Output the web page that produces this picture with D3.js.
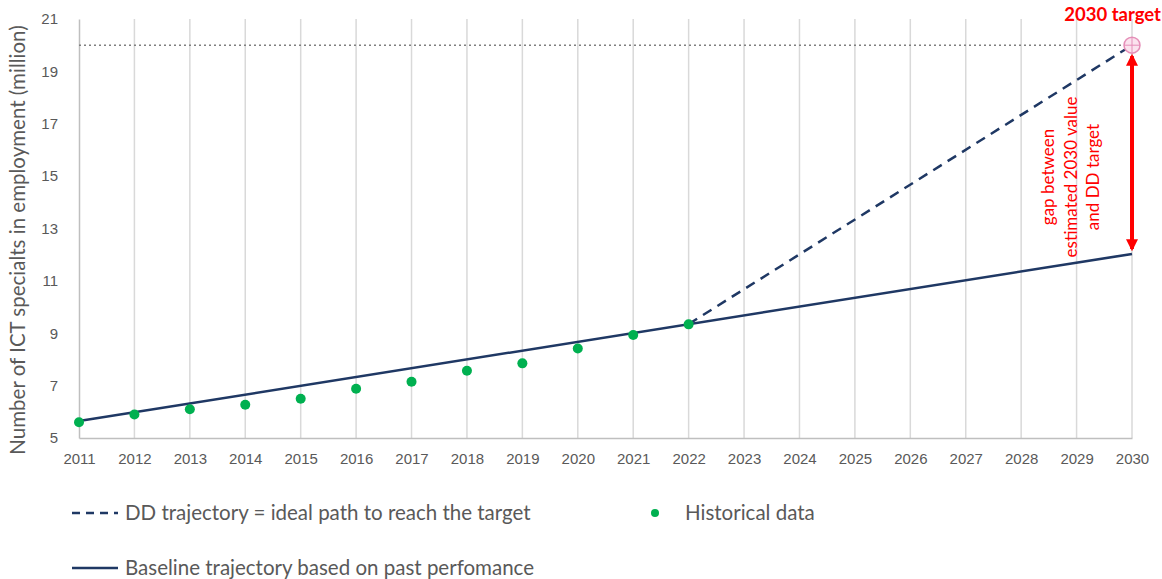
<!DOCTYPE html>
<html>
<head>
<meta charset="utf-8">
<script src="https://cdn.jsdelivr.net/npm/d3@7"></script>
<style>
  body { margin: 0; background: #fff; }
  svg { display: block; font-family: Lato, "Open Sans", sans-serif; }
</style>
</head>
<body>
<svg id="chart" width="1162" height="579"></svg>
<script>
// data
var years = d3.range(2011, 2031)
var yTicks = [5, 7, 9, 11, 13, 15, 17, 19, 21]
var histYears = [2011, 2012, 2013, 2014, 2015, 2016, 2017, 2018, 2019, 2020, 2021, 2022]
var histValues = [5.6, 5.9, 6.1, 6.27, 6.5, 6.88, 7.15, 7.57, 7.85, 8.42, 8.93, 9.34]
var baselineYears = [2011, 2030]
var baselineValues = [5.65, 12.03]
var ddYears = [2022, 2030]
var ddValues = [9.35, 20]
var targetYear = 2030
var targetValue = 20

var grey = '#595959',
    navy = '#1f3864',
    green = '#00b050',
    red = '#ff0000'

var margin = {top: 19, right: 30, bottom: 141, left: 79},
    width = 1162, height = 579

var svg = d3.select('#chart')

var x = d3.scaleLinear().domain([2011, 2030]).range([margin.left, width - margin.right])
var y = d3.scaleLinear().domain([5, 21]).range([height - margin.bottom, margin.top])

// vertical gridlines
svg.append('g')
  .selectAll('line')
  .data(years.slice(1))
  .enter().append('line')
    .attr('x1', function(d){ return x(d) })
    .attr('x2', function(d){ return x(d) })
    .attr('y1', y(21))
    .attr('y2', y(5))
    .attr('stroke', '#d9d9d9')
    .attr('stroke-width', 1.5)

// axes
var xAxis = svg.append('g')
  .attr('transform', 'translate(0,' + y(5) + ')')
  .call(d3.axisBottom(x).tickValues(years).tickFormat(d3.format('d')).tickSize(0).tickPadding(15))
xAxis.select('.domain').attr('stroke', '#bfbfbf').attr('stroke-width', 1.5)
xAxis.selectAll('text').attr('fill', grey).attr('font-size', 15)

var yAxis = svg.append('g')
  .attr('transform', 'translate(' + x(2011) + ',0)')
  .call(d3.axisLeft(y).tickValues(yTicks).tickSize(0).tickPadding(21))
yAxis.select('.domain').attr('stroke', '#bfbfbf').attr('stroke-width', 1.5)
yAxis.selectAll('text').attr('fill', grey).attr('font-size', 15)

svg.append('text')
  .attr('transform', 'translate(25,' + 240 + ') rotate(-90)')
  .attr('text-anchor', 'middle')
  .attr('fill', grey)
  .attr('font-size', 20.5)
  .text('Number of ICT specialts in employment (million)')

// target level (dotted)
svg.append('line')
  .attr('x1', x(2011)).attr('x2', x(targetYear))
  .attr('y1', y(targetValue)).attr('y2', y(targetValue))
  .attr('stroke', '#7f7f7f')
  .attr('stroke-width', 1.5)
  .attr('stroke-dasharray', '2,3')

var line = d3.line()
  .x(function(d){ return x(d[0]) })
  .y(function(d){ return y(d[1]) })

// baseline
svg.append('path')
  .datum(d3.zip(baselineYears, baselineValues))
  .attr('d', line)
  .attr('fill', 'none')
  .attr('stroke', navy)
  .attr('stroke-width', 2.5)

// DD trajectory
svg.append('path')
  .datum(d3.zip(ddYears, ddValues))
  .attr('d', line)
  .attr('fill', 'none')
  .attr('stroke', navy)
  .attr('stroke-width', 2.5)
  .attr('stroke-dasharray', '10,7')

// historical
svg.append('g')
  .selectAll('circle')
  .data(d3.zip(histYears, histValues))
  .enter().append('circle')
    .attr('cx', function(d){ return x(d[0]) })
    .attr('cy', function(d){ return y(d[1]) })
    .attr('r', 5)
    .attr('fill', green)

// target marker
var tx = x(targetYear), ty = y(targetValue)
var tg = svg.append('g')
tg.append('circle').attr('cx', tx).attr('cy', ty).attr('r', 8)
  .attr('fill', '#fbe3ee').attr('stroke', '#e58fb8').attr('stroke-width', 1.5)
tg.append('line').attr('x1', tx - 8).attr('x2', tx + 8).attr('y1', ty).attr('y2', ty)
  .attr('stroke', '#e58fb8').attr('stroke-width', 1)
tg.append('line').attr('x1', tx).attr('x2', tx).attr('y1', ty - 8).attr('y2', ty + 8)
  .attr('stroke', '#e58fb8').attr('stroke-width', 1)

svg.append('text')
  .attr('x', width - 1).attr('y', 21)
  .attr('text-anchor', 'end')
  .attr('fill', red)
  .attr('font-weight', 'bold')
  .attr('font-size', 18.5)
  .text('2030 target')

// gap arrow
var defs = svg.append('defs')
defs.append('marker')
  .attr('id', 'ah')
  .attr('viewBox', '0 0 10 10')
  .attr('refX', 8).attr('refY', 5)
  .attr('markerWidth', 3).attr('markerHeight', 3)
  .attr('orient', 'auto-start-reverse')
  .append('path').attr('d', 'M0,0L10,5L0,10z').attr('fill', red)

svg.append('line')
  .attr('x1', tx).attr('x2', tx)
  .attr('y1', y(targetValue) + 11)
  .attr('y2', y(baselineValues[1]) - 5)
  .attr('stroke', red)
  .attr('stroke-width', 4)
  .attr('marker-start', 'url(#ah)')
  .attr('marker-end', 'url(#ah)')

var gapLines = ['gap between', 'estimated 2030 value', 'and DD target']
svg.append('g')
  .selectAll('text')
  .data(gapLines)
  .enter().append('text')
    .attr('transform', function(d, i){ return 'translate(' + (1054 + i * 22.5) + ',177) rotate(-90)' })
    .attr('text-anchor', 'middle')
    .attr('fill', red)
    .attr('font-size', 17)
    .text(function(d){ return d })

// legend
var lg = svg.append('g').attr('font-size', 20.5).attr('fill', grey)
lg.append('line').attr('x1', 72).attr('x2', 118).attr('y1', 513).attr('y2', 513)
  .attr('stroke', navy).attr('stroke-width', 2.5).attr('stroke-dasharray', '8,6')
lg.append('text').attr('x', 125).attr('y', 520).text('DD trajectory = ideal path to reach the target')
lg.append('circle').attr('cx', 655).attr('cy', 513).attr('r', 4).attr('fill', green)
lg.append('text').attr('x', 685).attr('y', 520).text('Historical data')
lg.append('line').attr('x1', 72).attr('x2', 118).attr('y1', 568).attr('y2', 568)
  .attr('stroke', navy).attr('stroke-width', 2.5)
lg.append('text').attr('x', 125).attr('y', 575).text('Baseline trajectory based on past perfomance')
</script>
</body>
</html>
